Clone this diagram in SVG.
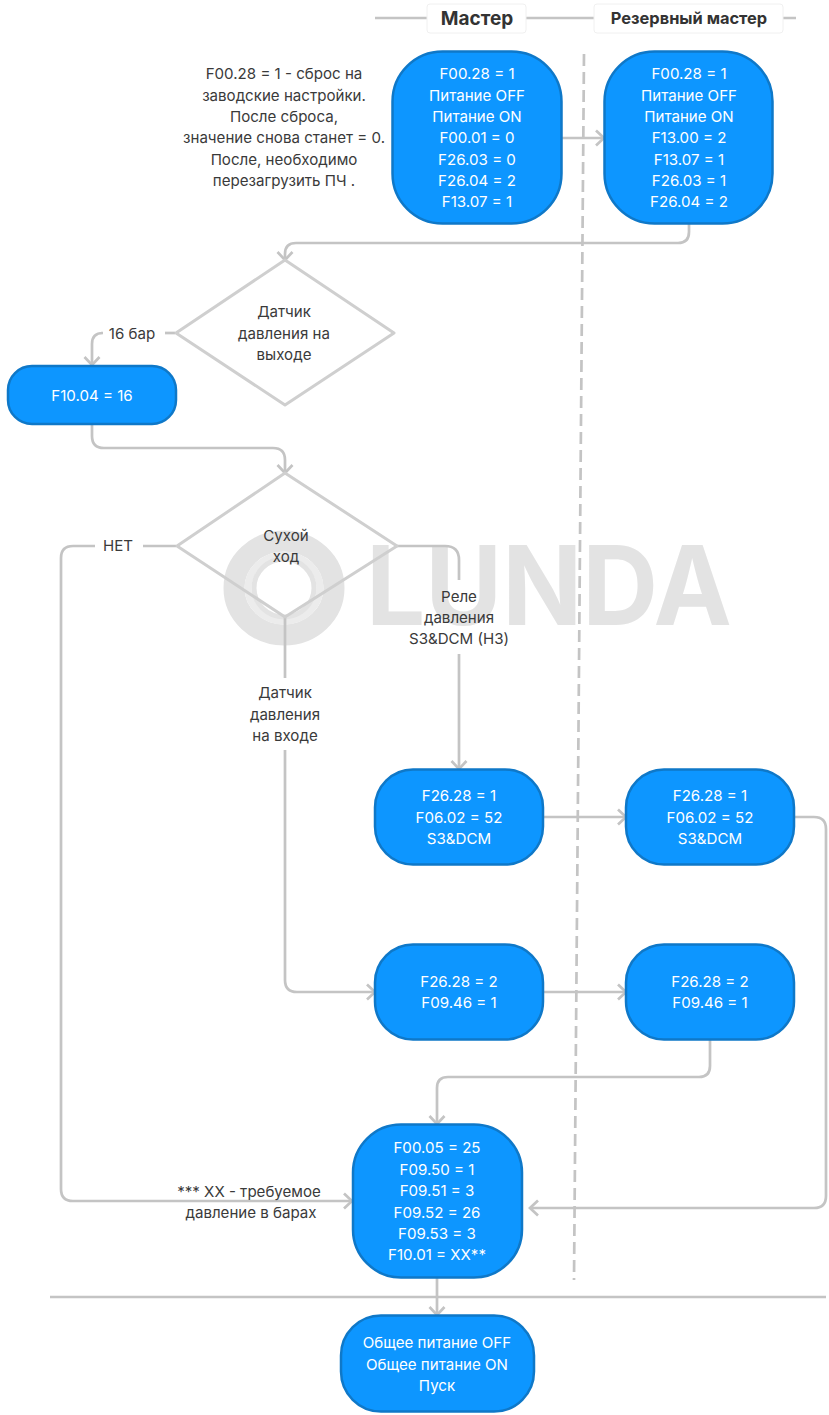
<svg xmlns="http://www.w3.org/2000/svg" width="829" height="1415" viewBox="0 0 829 1415">
<style>
text{font-family:Inter,"Noto Sans","Liberation Sans",sans-serif;font-size:15.1px;text-anchor:middle;fill:#3a3a3a}
.box{fill:#0d96ff;stroke:#0f78c8;stroke-width:2.5}
g.nb text{fill:#fff}
.dia{fill:#fff;stroke:#cfcfcf;stroke-width:3;stroke-linejoin:round}
.c{fill:none;stroke:#c4c4c4;stroke-width:2.7}
.a{marker-end:url(#arr)}
.hd{fill:#fff;stroke:#f0f0f0}
.h{font-weight:700;fill:#333}
</style>
<defs>
<marker id="arr" markerUnits="userSpaceOnUse" markerWidth="14" markerHeight="18" refX="11" refY="9" orient="auto" overflow="visible">
<path d="M3 1.500 L11 9 L3 16.500" fill="none" stroke="#c4c4c4" stroke-width="2.7"/>
</marker>
</defs>
<rect width="829" height="1415" fill="#fff"/>
<g id="watermark">
<ellipse cx="284" cy="588" rx="50" ry="47" fill="none" stroke="#e3e3e3" stroke-width="21"/>
<ellipse cx="284" cy="588" rx="36" ry="33" fill="none" stroke="#ececec" stroke-width="7"/>
<ellipse cx="284" cy="588" rx="30" ry="29" fill="none" stroke="#e3e3e3" stroke-width="5"/>
<text x="366" y="625" textLength="366" lengthAdjust="spacingAndGlyphs" style="font-size:110px;text-anchor:start;fill:#e3e3e3;font-weight:700">LUNDA</text>
</g>
<g id="dividers">
<path class="c" d="M375 18H427M526 18H594M783 18H796"/>
<path class="c" d="M50 1297H826"/>
<path d="M584 54L574 1280" fill="none" stroke="#c4c4c4" stroke-width="2.7" stroke-dasharray="12 6"/>
</g>
<g id="connectors">
<path class="c a" d="M562 138H604"/>
<path class="c a" d="M689 224V232Q689 243 678 243H296Q285 243 285 254V260"/>
<path class="c" d="M175 333H165"/>
<path class="c a" d="M101 333H103Q92 333 92 344V365"/>
<path class="c a" d="M92 424V436Q92 448 104 448H273Q285 448 285 460V473"/>
<path class="c" d="M176 546H143"/>
<path class="c a" d="M95 546H73Q61 546 61 558V1189Q61 1201 73 1201H352"/>
<path class="c" d="M397 546H445Q459 546 459 560V580"/>
<path class="c a" d="M459 654V769"/>
<path class="c" d="M285 617V678"/>
<path class="c a" d="M285 750V980Q285 992 297 992H375"/>
<path class="c a" d="M543 817H626"/>
<path class="c a" d="M543 992H626"/>
<path class="c a" d="M794 817H814Q826 817 826 829V1196Q826 1208 814 1208H530"/>
<path class="c a" d="M710 1039V1066Q710 1077 699 1077H448Q437 1077 437 1088V1124"/>
<path class="c a" d="M437 1278V1315"/>
</g>
<g id="header-master"><rect class="hd" x="427" y="4" width="99" height="29" rx="3"/><text class="h" x="477" y="25" style="font-size:19px">Мастер</text></g>
<g id="header-reserve"><rect class="hd" x="594" y="4" width="189" height="29" rx="3"/><text class="h" x="689" y="24" style="font-size:16.4px">Резервный мастер</text></g>
<g id="note"><text x="284" y="79">F00.28 = 1 - сброс на</text><text x="284" y="101">заводские настройки.</text><text x="284" y="122">После сброса,</text><text x="284" y="143">значение снова станет = 0.</text><text x="284" y="165">После, необходимо</text><text x="284" y="186">перезагрузить ПЧ .</text></g>
<g id="n1" class="nb"><rect class="box" x="392.500" y="51.500" width="169" height="172" rx="50"/><text x="477" y="79">F00.28 = 1</text><text x="477" y="101">Питание OFF</text><text x="477" y="122">Питание ON</text><text x="477" y="143">F00.01 = 0</text><text x="477" y="165">F26.03 = 0</text><text x="477" y="186">F26.04 = 2</text><text x="477" y="207">F13.07 = 1</text></g>
<g id="n2" class="nb"><rect class="box" x="604.500" y="51.500" width="168" height="172" rx="50"/><text x="689" y="79">F00.28 = 1</text><text x="689" y="101">Питание OFF</text><text x="689" y="122">Питание ON</text><text x="689" y="143">F13.00 = 2</text><text x="689" y="165">F13.07 = 1</text><text x="689" y="186">F26.03 = 1</text><text x="689" y="207">F26.04 = 2</text></g>
<g id="d1"><path class="dia" d="M285 260L394 333L285 405L176 333Z"/><text x="284" y="317">Датчик</text><text x="284" y="339">давления на</text><text x="284" y="360">выходе</text></g>
<text x="132" y="339">16 бар</text>
<g id="n3" class="nb"><rect class="box" x="8" y="366" width="168" height="58" rx="24"/><text x="92" y="401">F10.04 = 16</text></g>
<g id="d2"><path class="dia" d="M285 473L397 546L285 617L177 546Z" style="fill:none"/><text x="286" y="541">Сухой</text><text x="286" y="562">ход</text></g>
<text x="118" y="551">НЕТ</text>
<text x="459" y="602">Реле</text><text x="459" y="623">давления</text><text x="459" y="644">S3&amp;DCM (НЗ)</text>
<text x="285" y="698">Датчик</text><text x="285" y="720">давления</text><text x="285" y="741">на входе</text>
<g id="n4" class="nb"><rect class="box" x="375" y="769.500" width="168" height="95" rx="38"/><text x="459" y="801">F26.28 = 1</text><text x="459" y="823">F06.02 = 52</text><text x="459" y="844">S3&amp;DCM</text></g>
<g id="n5" class="nb"><rect class="box" x="626" y="769.500" width="168" height="95" rx="38"/><text x="710" y="801">F26.28 = 1</text><text x="710" y="823">F06.02 = 52</text><text x="710" y="844">S3&amp;DCM</text></g>
<g id="n6" class="nb"><rect class="box" x="375" y="944.500" width="168" height="95" rx="38"/><text x="459" y="987">F26.28 = 2</text><text x="459" y="1008">F09.46 = 1</text></g>
<g id="n7" class="nb"><rect class="box" x="626" y="944.500" width="168" height="95" rx="38"/><text x="710" y="987">F26.28 = 2</text><text x="710" y="1008">F09.46 = 1</text></g>
<g id="n8" class="nb"><rect class="box" x="353" y="1124.500" width="169" height="153" rx="48"/><text x="437" y="1153">F00.05 = 25</text><text x="437" y="1175">F09.50 = 1</text><text x="437" y="1196">F09.51 = 3</text><text x="437" y="1218">F09.52 = 26</text><text x="437" y="1239">F09.53 = 3</text><text x="437" y="1260">F10.01 = XX**</text></g>
<text x="249" y="1197">*** XX - требуемое</text><text x="251" y="1218">давление в барах</text>
<g id="n9" class="nb"><rect class="box" x="341" y="1315.500" width="193" height="96" rx="40"/><text x="437" y="1348">Общее питание OFF</text><text x="437" y="1370">Общее питание ON</text><text x="437" y="1391">Пуск</text></g>
</svg>
